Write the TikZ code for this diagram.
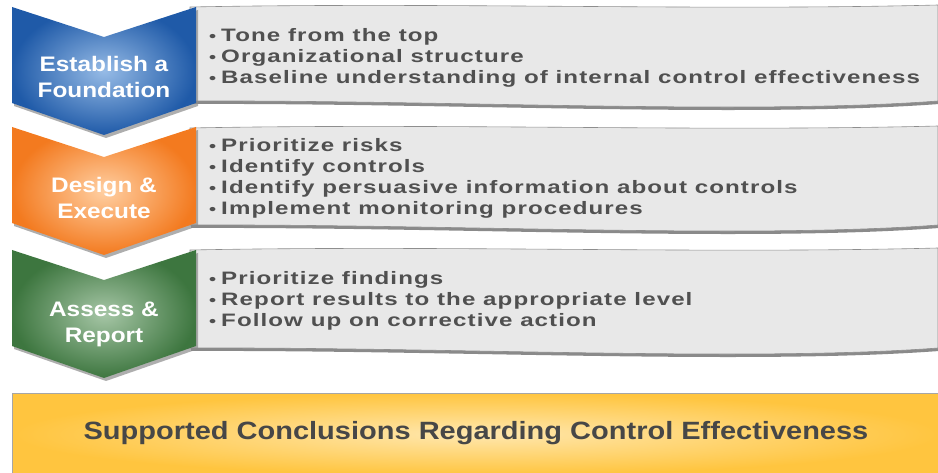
\documentclass[tikz,border=0pt]{standalone}
\usepackage{fontspec}
\setmainfont{Liberation Sans}[FakeStretch=1.16]
\newfontfamily\bulletfont{Liberation Sans}[FakeStretch=1.34, LetterSpace=6]
\definecolor{blueE}{HTML}{1F5AA8}
\definecolor{blueC}{HTML}{96BBE6}
\definecolor{orE}{HTML}{F37A1F}
\definecolor{orC}{HTML}{FFCFA2}
\definecolor{grE}{HTML}{3D763F}
\definecolor{grC}{HTML}{A6C6A6}
\definecolor{boxfill}{HTML}{E8E8E8}
\definecolor{boxline}{HTML}{8E8E8E}
\definecolor{boxshadow}{HTML}{8A8A8A}
\definecolor{txt}{HTML}{505050}
\definecolor{goldE}{HTML}{FFC53F}
\definecolor{goldC}{HTML}{FFE7AE}
\definecolor{bottxt}{HTML}{474747}
\newcommand\grboxpath[2]{(190,#1) .. controls (450,#1-5) and (700,#1+4) .. (938,#1-2) -- (938,#2) .. controls (750,#2+14) and (450,#2-1) .. (190,#2) -- cycle}
\newcommand\chevpath[1]{(12,#1) -- (104,#1+30) -- (196,#1) -- (196,#1+96) -- (104,#1+128) -- (12,#1+96) -- cycle}
\newcommand\bul{{\fontsize{15}{21}\selectfont•}\hspace{5pt}}
\tikzset{
  chevtext/.style={text=white, align=center, inner sep=0pt,
    font=\fontsize{21}{26}\selectfont\bfseries},
  bullettext/.style={text=txt, align=left, anchor=west, inner sep=0pt,
    font=\bulletfont\fontsize{18}{21}\selectfont\bfseries},
  grbox/.style={fill=boxfill, draw=boxline, line width=0.6pt},
  grshadow/.style={fill=boxshadow},
  chshadow/.style={fill=black!45, opacity=0.7}
}
\begin{document}
\begin{tikzpicture}[x=1pt,y=-1pt]
\useasboundingbox (0,0) rectangle (938,473);
% gray boxes
\fill[grshadow, shift={(1,3)}] \grboxpath{7}{101};
\path[grbox] \grboxpath{7}{101};
\fill[grshadow, shift={(1,3)}] \grboxpath{128}{225};
\path[grbox] \grboxpath{128}{225};
\fill[grshadow, shift={(1,3)}] \grboxpath{250}{348};
\path[grbox] \grboxpath{250}{348};
% chevrons
\fill[chshadow, shift={(2,3)}] \chevpath{7};
\shade[inner color=blueC, outer color=blueE] \chevpath{7};
\fill[chshadow, shift={(2,3)}] \chevpath{127};
\shade[inner color=orC, outer color=orE] \chevpath{127};
\fill[chshadow, shift={(2,3)}] \chevpath{250};
\shade[inner color=grC, outer color=grE] \chevpath{250};
% chevron texts
\node[chevtext] (c1) at (104,77) {Establish a\\Foundation};
\node[chevtext] (c2) at (104,198) {Design \&\\Execute};
\node[chevtext] (c3) at (104,324) {Assess \&\\Report};
% bullet lists
\node[bullettext] (b1) at (209,58) {\bul Tone from the top\\\bul Organizational structure\\\bul Baseline understanding of internal control effectiveness};
\node[bullettext] (b2) at (209,178) {\bul Prioritize risks\\\bul Identify controls\\\bul Identify persuasive information about controls\\\bul Implement monitoring procedures};
\node[bullettext] (b3) at (209,301) {\bul Prioritize findings\\\bul Report results to the appropriate level\\\bul Follow up on corrective action};
% bottom box
\shade[inner color=goldC, outer color=goldE] (12,393) rectangle (940,475);
\draw[draw=black!35, line width=0.8pt] (12,475) -- (12,393) -- (940,393);
\node[text=bottxt, inner sep=0pt, font=\fontsize{25}{30}\selectfont\bfseries] (concl) at (476,433) {Supported Conclusions Regarding Control Effectiveness};
\end{tikzpicture}
\end{document}
